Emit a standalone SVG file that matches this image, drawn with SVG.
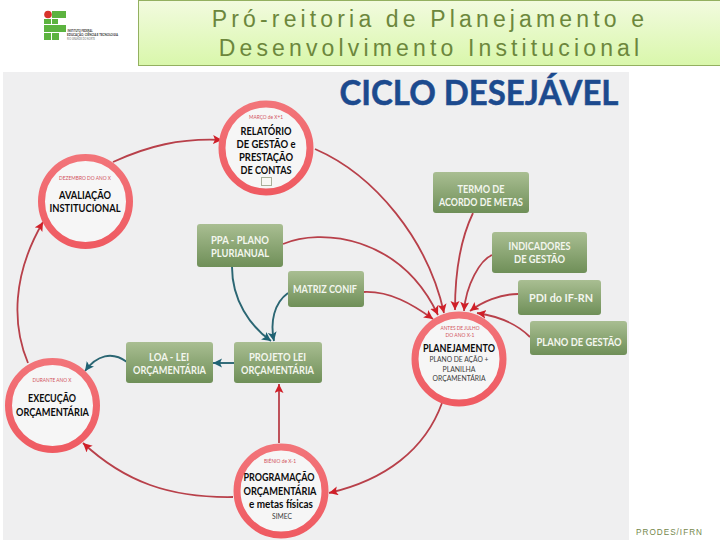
<svg xmlns="http://www.w3.org/2000/svg" width="720" height="540" viewBox="0 0 720 540">
<style>
text{font-family:"Lato","Noto Sans","Liberation Sans",sans-serif;text-anchor:middle}
.box{fill:url(#bg);rx:3px}
.bt{font-size:10.5px;font-weight:700;fill:#f3f6ee}
.ring{fill:#f6f6f6;stroke:url(#rg);stroke-width:7}
.t{font-size:10.5px;font-weight:700;fill:#0c0c0c}
.s{font-size:5px;fill:#d2525c}
.r{font-size:8.2px;fill:#3c3c3c}
.red{fill:none;stroke:#b8404a;stroke-width:1.8;marker-end:url(#ar)}
.teal{fill:none;stroke:#2b6673;stroke-width:1.9;marker-end:url(#at)}
.h{font-family:"Liberation Sans",Arial,sans-serif;font-size:23px;letter-spacing:4.15px;fill:#6c873c}
</style>
<defs>
<linearGradient id="bg" x1="0" y1="0" x2="0" y2="1"><stop offset="0" stop-color="#a9be92"/><stop offset="1" stop-color="#6f8f58"/></linearGradient>
<linearGradient id="rg" x1="0" y1="0" x2="0" y2="1"><stop offset="0" stop-color="#f27479"/><stop offset="1" stop-color="#ef5b62"/></linearGradient>
<linearGradient id="hg" x1="0" y1="0" x2="0" y2="1"><stop offset="0" stop-color="#f2fbdf"/><stop offset="1" stop-color="#d9f7ab"/></linearGradient>
<marker id="ar" markerUnits="userSpaceOnUse" markerWidth="11" markerHeight="11" refX="9" refY="4.5" orient="auto"><path d="M0 0L9 4.5L0 9L2 4.5Z" fill="#d01f28"/></marker>
<marker id="at" markerUnits="userSpaceOnUse" markerWidth="11" markerHeight="11" refX="9" refY="4.5" orient="auto"><path d="M0 0L9 4.5L0 9L2 4.5Z" fill="#1f6273"/></marker>
</defs>
<rect width="720" height="540" fill="#fff"/>
<rect x="3" y="72" width="626" height="468" fill="#efeff0"/>
<g id="header">
<rect x="138.5" y="0.5" width="582" height="65" fill="url(#hg)" stroke="#93b060"/>
<text class="h" x="430" y="27">Pró-reitoria de Planejamento e</text>
<text class="h" x="431" y="56">Desenvolvimento Institucional</text>
</g>
<g id="logo">
<circle cx="48" cy="14.5" r="3.8" fill="#d7342b"/>
<g fill="#5cb33f">
<rect x="52" y="11" width="14" height="7"/>
<rect x="44" y="19" width="7" height="5"/>
<rect x="52" y="19" width="6" height="5"/>
<rect x="44" y="25" width="22" height="7"/>
<rect x="44" y="33" width="7" height="7"/>
<rect x="52" y="33" width="7" height="7"/>
</g>
<g style="font-size:3.4px;fill:#333;font-weight:700">
<text x="80" y="32" textLength="25" lengthAdjust="spacingAndGlyphs">INSTITUTO FEDERAL</text>
<text x="92.5" y="36" textLength="51" lengthAdjust="spacingAndGlyphs">EDUCAÇÃO, CIÊNCIA E TECNOLOGIA</text>
<text x="81" y="40" textLength="28" lengthAdjust="spacingAndGlyphs" style="fill:#999">RIO GRANDE DO NORTE</text>
</g>
</g>
<text x="479" y="105" style="font-size:35px;font-weight:700;fill:#1c4a8e;stroke:#1c4a8e;stroke-width:.5" textLength="279" lengthAdjust="spacingAndGlyphs">CICLO DESEJÁVEL</text>
<g id="connectors">
<path class="red" d="M113 162C148 146 180 138 222 140"/>
<path class="red" d="M28 363C12 325 12 275 43 222"/>
<path class="red" d="M233 497C170 498 125 482 83 443"/>
<path class="red" d="M279 443V384"/>
<path class="red" d="M442 403C425 450 385 480 329 493"/>
<path class="red" d="M315 149C375 175 428 240 444 313"/>
<path class="red" d="M283 244C320 228 400 235 438 315"/>
<path class="red" d="M364 292C390 291 412 304 433 319"/>
<path class="red" d="M473 213C460 240 455 275 455 310"/>
<path class="red" d="M492 255C480 260 466 285 464 311"/>
<path class="red" d="M518 294C500 294 482 302 470 311"/>
<path class="red" d="M530 337C515 322 497 316 477 313"/>
<path class="teal" d="M232 267C232 300 250 326 271 341"/>
<path class="teal" d="M288 293C274 303 270 322 274 341"/>
<path class="teal" d="M234 363H213"/>
<path class="teal" d="M127 362C112 351 97 355 85 371"/>
</g>
<g id="relatorio">
<circle class="ring" cx="266" cy="148" r="44"/>
<text class="s" x="266" y="119" textLength="34" lengthAdjust="spacingAndGlyphs">MARÇO de X+1</text>
<text class="t" x="266" y="135" textLength="51" lengthAdjust="spacingAndGlyphs">RELATÓRIO</text>
<text class="t" x="266" y="148" textLength="59" lengthAdjust="spacingAndGlyphs">DE GESTÃO e</text>
<text class="t" x="266" y="161" textLength="54" lengthAdjust="spacingAndGlyphs">PRESTAÇÃO</text>
<text class="t" x="266" y="174" textLength="51" lengthAdjust="spacingAndGlyphs">DE CONTAS</text>
<rect x="261.5" y="177.5" width="10" height="8" fill="#f8f8f4" stroke="#a9b09a"/>
</g>
<g id="avaliacao">
<circle class="ring" cx="85.5" cy="201.5" r="44"/>
<text class="s" x="85" y="180" textLength="52" lengthAdjust="spacingAndGlyphs">DEZEMBRO DO ANO X</text>
<text class="t" x="85" y="199" textLength="52" lengthAdjust="spacingAndGlyphs">AVALIAÇÃO</text>
<text class="t" x="85" y="212" textLength="71" lengthAdjust="spacingAndGlyphs">INSTITUCIONAL</text>
</g>
<g id="execucao">
<circle class="ring" cx="52.5" cy="405.5" r="44"/>
<text class="s" x="52" y="382" textLength="39" lengthAdjust="spacingAndGlyphs">DURANTE ANO X</text>
<text class="t" x="52" y="402" textLength="48" lengthAdjust="spacingAndGlyphs">EXECUÇÃO</text>
<text class="t" x="52.5" y="416" textLength="73" lengthAdjust="spacingAndGlyphs">ORÇAMENTÁRIA</text>
</g>
<g id="programacao">
<circle class="ring" cx="281" cy="491" r="44"/>
<text class="s" x="280" y="463" textLength="32" lengthAdjust="spacingAndGlyphs">BIÊNIO de X-1</text>
<text class="t" x="279" y="481" textLength="71" lengthAdjust="spacingAndGlyphs">PROGRAMAÇÃO</text>
<text class="t" x="280" y="495" textLength="73" lengthAdjust="spacingAndGlyphs">ORÇAMENTÁRIA</text>
<text class="t" x="281" y="508" textLength="64" lengthAdjust="spacingAndGlyphs">e metas físicas</text>
<text class="r" x="282" y="519" textLength="20" lengthAdjust="spacingAndGlyphs">SIMEC</text>
</g>
<g id="planejamento">
<circle class="ring" cx="459" cy="359" r="44"/>
<text class="s" x="460" y="330" textLength="39" lengthAdjust="spacingAndGlyphs">ANTES DE JULHO</text>
<text class="s" x="460" y="337" textLength="29" lengthAdjust="spacingAndGlyphs">DO ANO X-1</text>
<text class="t" x="459" y="352" textLength="72" lengthAdjust="spacingAndGlyphs">PLANEJAMENTO</text>
<text class="r" x="459" y="362" textLength="59" lengthAdjust="spacingAndGlyphs">PLANO DE AÇÃO +</text>
<text class="r" x="459" y="372" textLength="33" lengthAdjust="spacingAndGlyphs">PLANILHA</text>
<text class="r" x="459" y="381" textLength="53" lengthAdjust="spacingAndGlyphs">ORÇAMENTÁRIA</text>
</g>
<g id="ppa"><rect class="box" x="197" y="224" width="86" height="43"/><text class="bt" x="240" y="243.5" textLength="58" lengthAdjust="spacingAndGlyphs">PPA - PLANO</text><text class="bt" x="240" y="257" textLength="58" lengthAdjust="spacingAndGlyphs">PLURIANUAL</text></g>
<g id="matriz"><rect class="box" x="288" y="271" width="76" height="36"/><text class="bt" x="325" y="293" textLength="64" lengthAdjust="spacingAndGlyphs">MATRIZ CONIF</text></g>
<g id="loa"><rect class="box" x="126" y="342" width="87" height="41"/><text class="bt" x="169" y="360.5" textLength="40" lengthAdjust="spacingAndGlyphs">LOA - LEI</text><text class="bt" x="169.5" y="374" textLength="73" lengthAdjust="spacingAndGlyphs">ORÇAMENTÁRIA</text></g>
<g id="projeto"><rect class="box" x="234" y="342" width="88" height="41"/><text class="bt" x="277.5" y="360.5" textLength="57" lengthAdjust="spacingAndGlyphs">PROJETO LEI</text><text class="bt" x="277.5" y="374" textLength="73" lengthAdjust="spacingAndGlyphs">ORÇAMENTÁRIA</text></g>
<g id="termo"><rect class="box" x="433" y="172" width="96" height="41"/><text class="bt" x="481" y="193" textLength="47" lengthAdjust="spacingAndGlyphs">TERMO  DE</text><text class="bt" x="481" y="206" textLength="84" lengthAdjust="spacingAndGlyphs">ACORDO DE METAS</text></g>
<g id="indicadores"><rect class="box" x="492" y="232" width="95" height="41"/><text class="bt" x="539.5" y="249.5" textLength="62" lengthAdjust="spacingAndGlyphs">INDICADORES</text><text class="bt" x="539.5" y="263" textLength="51" lengthAdjust="spacingAndGlyphs">DE GESTÃO</text></g>
<g id="pdi"><rect class="box" x="518" y="280" width="83" height="35"/><text class="bt" x="561" y="302" style="font-size:11.5px" textLength="64" lengthAdjust="spacingAndGlyphs">PDI do IF-RN</text></g>
<g id="plano"><rect class="box" x="530" y="321" width="97" height="34"/><text class="bt" x="579" y="346" textLength="85" lengthAdjust="spacingAndGlyphs">PLANO DE GESTÃO</text></g>
<text x="669.5" y="535" style="font-size:8.2px;letter-spacing:1px;fill:#75884c;font-family:'Liberation Sans',sans-serif">PRODES/IFRN</text>
</svg>
